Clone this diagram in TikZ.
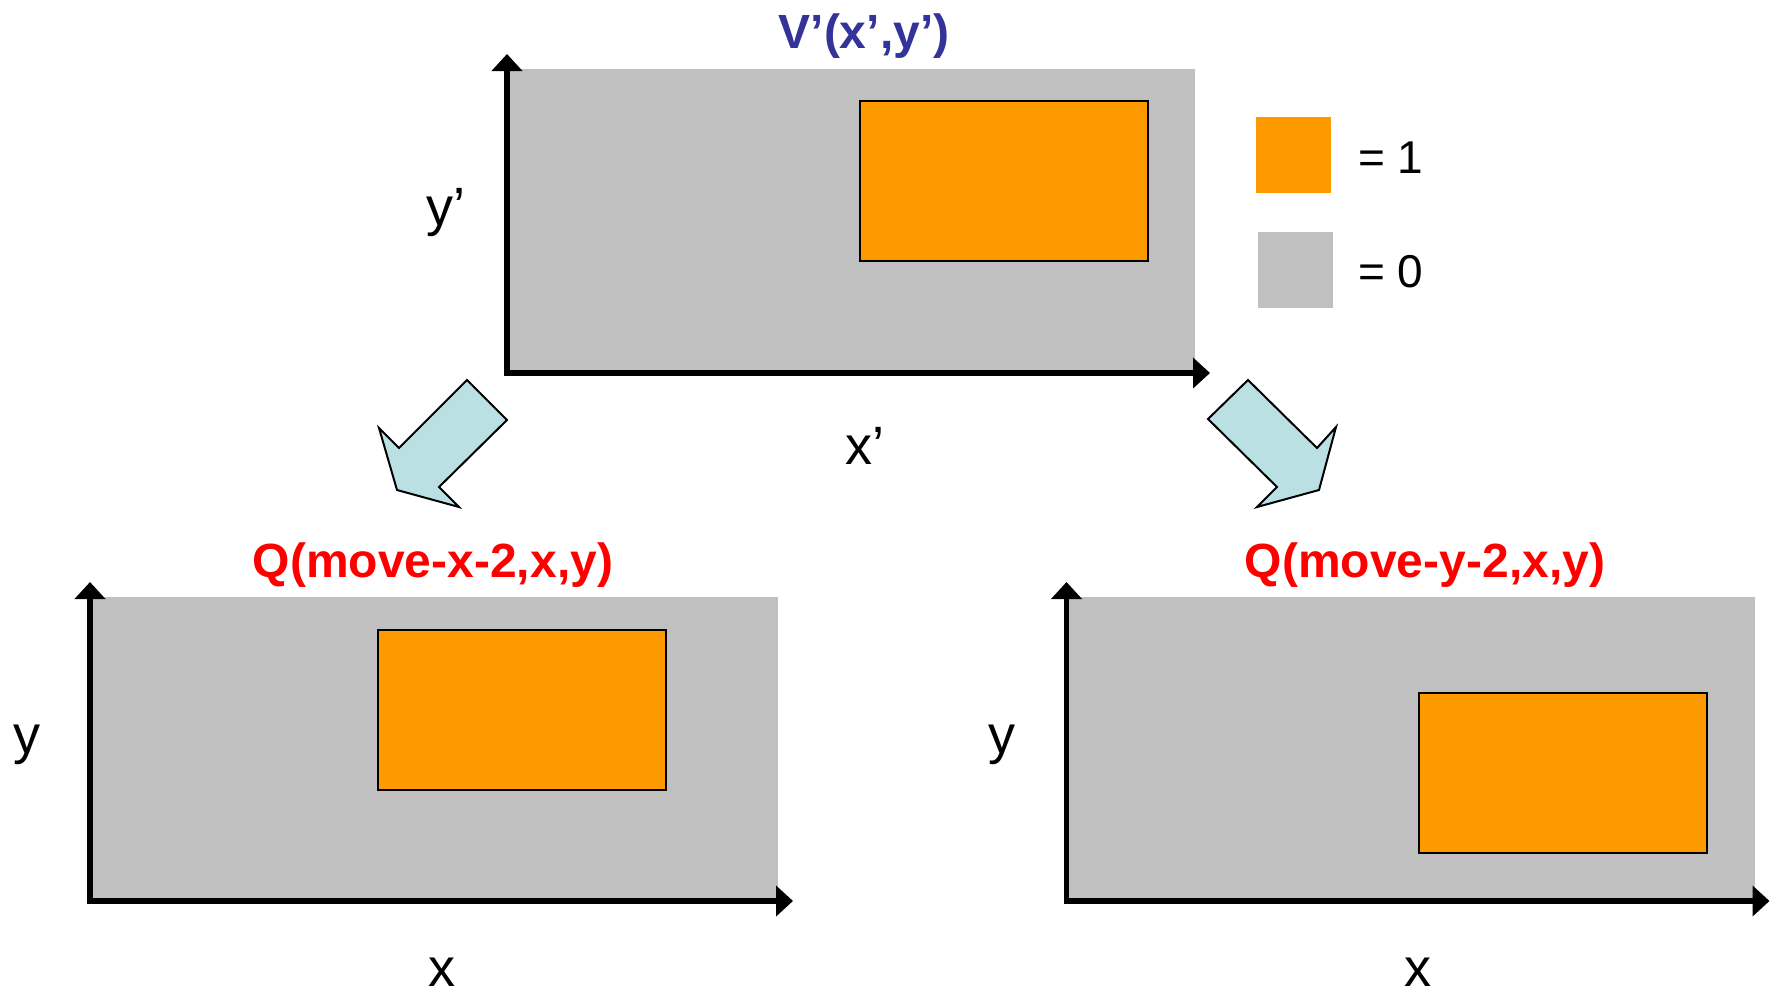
\documentclass[tikz,border=0pt]{standalone}
\usepackage{fontspec}
\setmainfont{Liberation Sans}
\usetikzlibrary{arrows.meta}
\definecolor{panelgray}{RGB}{192,192,192}
\definecolor{boxorange}{RGB}{255,153,0}
\definecolor{titleblue}{RGB}{51,51,153}
\definecolor{titlered}{RGB}{255,0,0}
\definecolor{arrowfill}{RGB}{187,224,228}
\tikzset{
  panel/.style={fill=panelgray, draw=none, minimum width=688pt, minimum height=304pt, inner sep=0pt, outer sep=0pt},
  onebox/.style={fill=boxorange, draw=black, line width=1.5pt, minimum width=288pt, minimum height=160pt, inner sep=0pt, anchor=north west},
  legbox/.style={draw=none, minimum width=75pt, minimum height=76pt, inner sep=0pt, anchor=north west},
  axisline/.style={line width=5.3pt, line join=miter, {Triangle[length=17pt,width=30pt]}-{Triangle[length=17pt,width=30pt]}},
  blockarrow/.style={fill=arrowfill, draw=black, line width=2pt, line join=miter},
  axlabel/.style={font=\fontsize{54}{60}\selectfont, inner sep=0pt, anchor=base},
  leglabel/.style={font=\fontsize{46}{52}\selectfont, inner sep=0pt, anchor=base west},
  titletext/.style={font=\fontsize{48}{56}\selectfont\bfseries, inner sep=0pt, anchor=base}
}
\begin{document}
\begin{tikzpicture}[x=1pt,y=-1pt]
\useasboundingbox (0,0) rectangle (1777,993);
% top panel
\node[panel, anchor=south west] (topbg) at (507,373) {};
\node[onebox] (topfg) at (859,100) {};
\draw[axisline] ([yshift=15pt]topbg.north west) -- (topbg.south west) -- ([xshift=15pt]topbg.south east);
\node[titletext, text=titleblue] (toptitle) at (864,48) {V’(x’,y’)};
\node[axlabel] (topy) at (446,225) {y’};
\node[axlabel] (topx) at (865,464) {x’};
% legend
\node[legbox, fill=boxorange] (leg1) at (1256,117) {};
\node[leglabel] (leg1t) at (1358,173) {= 1};
\node[legbox, fill=panelgray] (leg0) at (1258,232) {};
\node[leglabel] (leg0t) at (1358,287) {= 0};
% bottom left panel
\node[panel, anchor=south west] (blbg) at (90,901) {};
\node[onebox] (blfg) at (377,629) {};
\draw[axisline] ([yshift=15pt]blbg.north west) -- (blbg.south west) -- ([xshift=15pt]blbg.south east);
\node[titletext, text=titlered] (bltitle) at (433,577) {Q(move-x-2,x,y)};
\node[axlabel] (bly) at (27,753) {y};
\node[axlabel] (blx) at (442,986) {x};
% bottom right panel
\node[panel, anchor=south west] (brbg) at (1066.5,901) {};
\node[onebox] (brfg) at (1418,692) {};
\draw[axisline] ([yshift=15pt]brbg.north west) -- (brbg.south west) -- ([xshift=15pt]brbg.south east);
\node[titletext, text=titlered] (brtitle) at (1425,577) {Q(move-y-2,x,y)};
\node[axlabel] (bry) at (1002,753) {y};
\node[axlabel] (brx) at (1418,986) {x};
% block arrows
\draw[blockarrow] (467,380) -- (507,420) -- (439,487) -- (459,507) -- (397,490) -- (379,428) -- (399,448) -- cycle;
\draw[blockarrow] (1248,380) -- (1208,419) -- (1277,487) -- (1257,507) -- (1319,490) -- (1336,427) -- (1317,448) -- cycle;
\end{tikzpicture}
\end{document}
